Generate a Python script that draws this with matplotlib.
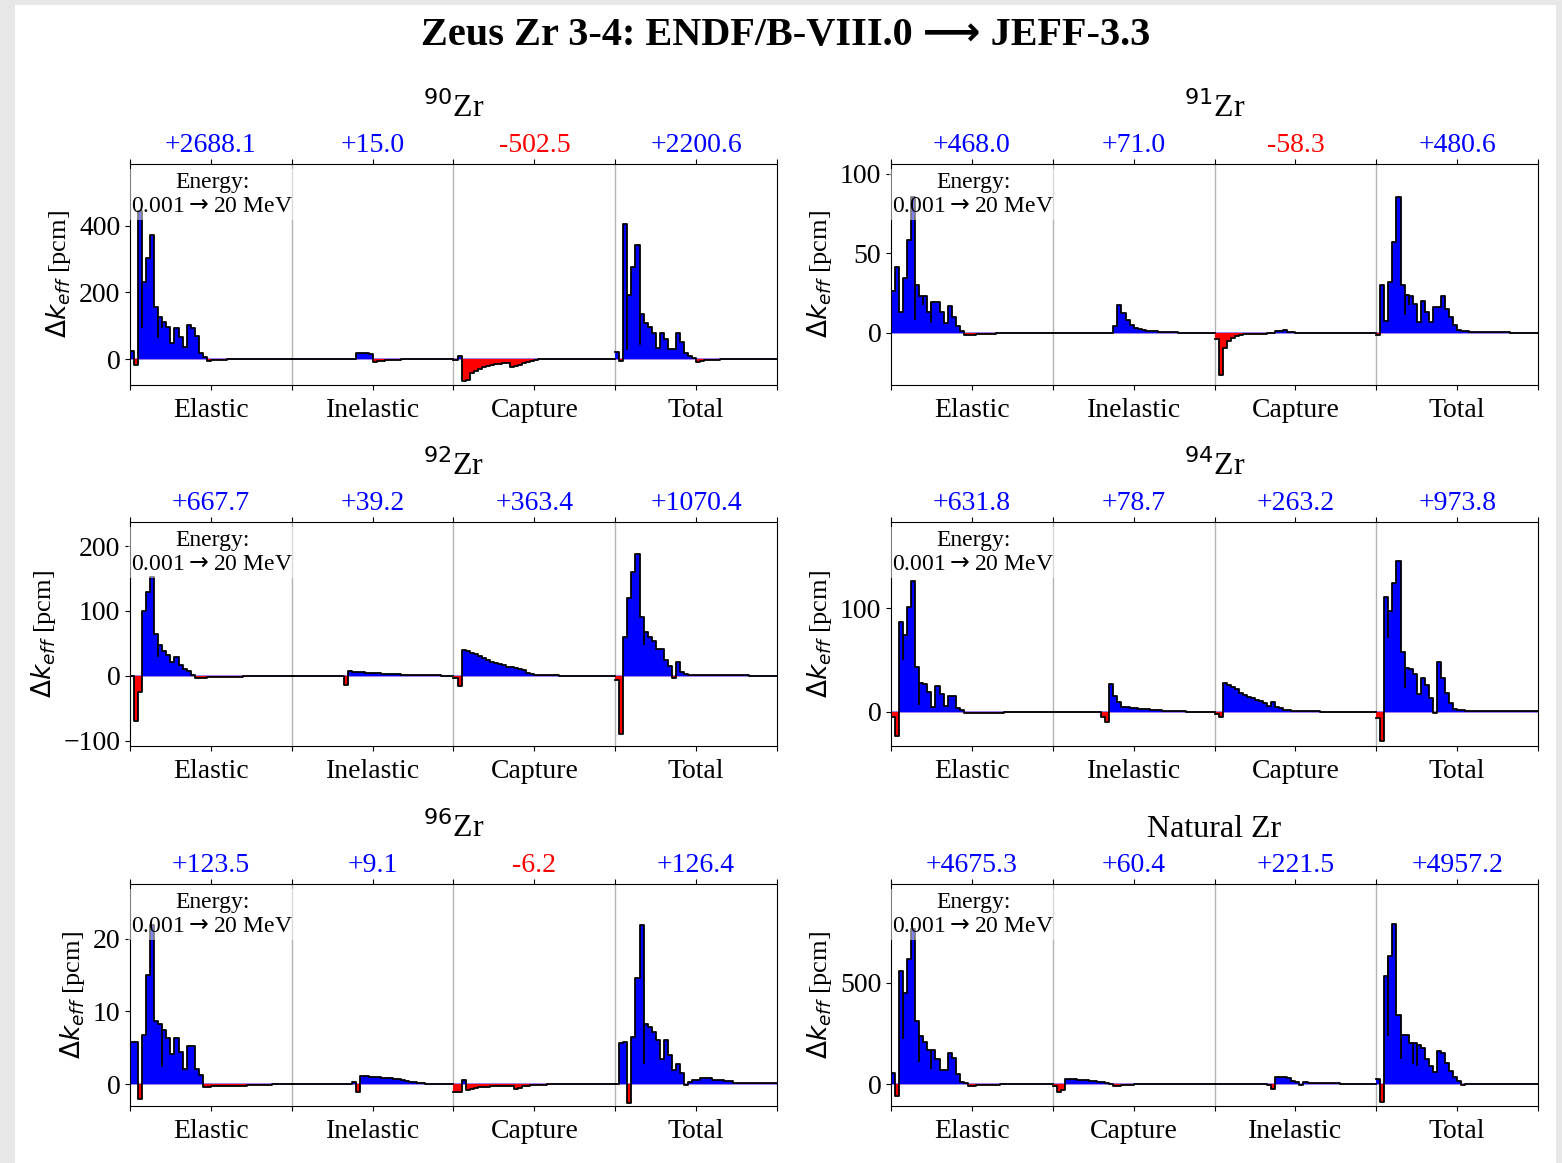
import numpy as np
import matplotlib
matplotlib.use('Agg')
import matplotlib.pyplot as plt
import matplotlib.transforms as mtransforms
from matplotlib.patches import Rectangle

plt.rcParams['font.family'] = ['Liberation Serif', 'DejaVu Sans']

NBIN = 40  # energy groups per reaction block (0.001 -> 20 MeV)

# ---- 90Zr ----
zr90_elastic = [25, -18, 445, 232, 303, 373, 157, 127, 112, 97, 48, 93, 67, 37, 102, 93, 69, 18, 7, -5,
                -4, -3, -2, -2, -1, -1, -1, -1, 0, 0, 0, 0, 0, 0, 0, 0, 0, 0, 0, 0]
zr90_inelastic = [0, 0, 0, 0, 0, 0, 0, 0, 0, 0, 0, 0, 0, 0, 0, 0, 17, 18, 17, 15,
                  -8, -7, -5, -4, -3, -2, -2, -1, -1, -1, -1, 0, 0, 0, 0, 0, 0, 0, 0, 0]
zr90_capture = [-3, 9, -65, -62, -42, -35, -30, -25, -22, -19, -16, -14, -12, -11, -25, -22, -17, -12, -8, -5,
                -2, -1, 0, 0, 0, 0, 0, 0, 0, 0, 0, 0, 0, 0, 0, 0, 0, 0, 0, 0]
zr90_total = [22, -5, 406, 192, 278, 343, 135, 109, 97, 79, 33, 79, 60, 30, 30, 78, 52, 17, 9, 3,
              -8, -7, -4, -3, -2, -2, -1, -1, 0, 0, 0, 0, 0, 0, 0, 0, 0, 0, 0, 0]
zr90_sums = ['+2688.1', '+15.0', '-502.5', '+2200.6']
zr90_dips = [(0, 3, 93), (0, 7, 63), (0, 8, 93), (3, 3, 27), (3, 6, 42)]

# ---- 91Zr ----
zr91_elastic = [26, 41, 13, 34, 58, 85, 30, 23, 23, 13, 19, 19, 13, 6, 16.5, 10, 4, 1, -1.5, -1.5,
                -1.3, -1.2, -1, -1, -0.8, -0.8, -0.6, -0.5, -0.4, -0.3, -0.2, -0.1, 0, 0, 0, 0, 0, 0, 0, 0]
zr91_inelastic = [0, 0, 0, 0, 0, 0, 0, 0, 0, 0, 0, 0, 0, 0, 0, 4, 17.5, 12, 8, 5,
                  3, 2, 1.5, 1.2, 1, 0.8, 0.6, 0.5, 0.3, 0.2, 0.1, 0, 0, 0, 0, 0, 0, 0, 0, 0]
zr91_capture = [-4, -27, -10, -5.5, -3.5, -2.2, -1.6, -1.2, -1, -1, -0.9, -0.8, -0.7, -0.6, -0.5, 1, 1, 1.5, 0.5, 0.2,
                0, 0, 0, 0, 0, 0, 0, 0, 0, 0, 0, 0, 0, 0, 0, 0, 0, 0, 0, 0]
zr91_total = [-1.5, 30, 7, 32, 57, 85, 30, 23.5, 23, 18, 6.7, 19.7, 13, 6.7, 16, 16, 23, 15, 10, 4.6,
              1.5, 1.0, 0.8, 0.6, 0.5, 0.4, 0.4, 0.3, 0.3, 0.2, 0.2, 0.1, 0.1, 0, 0, 0, 0, 0, 0, 0]
zr91_sums = ['+468.0', '+71.0', '-58.3', '+480.6']
zr91_dips = [(0, 6, 8), (0, 8, 17.5), (0, 10, 6), (3, 7, 11), (3, 8, 17.6)]

# ---- 92Zr ----
zr92_elastic = [0, -70, -25, 100, 129, 152, 65, 47, 39, 32, 21, 29, 16, 10, 7, 2, -3, -3, -3, -2,
                -2, -1.5, -1.5, -1.5, -1.2, -1.2, -1, -1, -0.8, -0.5, -0.3, 0, 0, 0, 0, 0, 0, 0, 0, 0]
zr92_inelastic = [0, 0, 0, 0, 0, 0, 0, 0, 0, 0, 0, 0, 0, -14, 7, 6.5, 6, 5.5, 5, 4.5,
                  4, 3.7, 3.4, 3.1, 2.8, 2.5, 2.2, 2, 1.8, 1.6, 1.4, 1.2, 1, 0.9, 0.8, 0.7, 0.6, 0.5, 0.4, 0.3]
zr92_capture = [-4, -15, 40, 39, 36, 33, 30, 27, 25, 22, 20, 18, 16, 14, 13, 12, 11, 9, 5, 3,
                2, 1.5, 1, 1, 0.8, 0.6, 0.5, 0.4, 0.3, 0.2, 0, 0, 0, 0, 0, 0, 0, 0, 0, 0]
zr92_total = [-6, -89, 60, 120, 160, 188, 90, 67, 60, 54, 42, 42, 24, 15, -3, 21, 6, 3, 2, 2,
              1.8, 1.7, 1.6, 1.5, 1.5, 1.4, 1.3, 1.2, 1.1, 1, 0.9, 0.8, 0.7, 0.5, 0, 0, 0, 0, 0, 0]
zr92_sums = ['+667.7', '+39.2', '+363.4', '+1070.4']
zr92_dips = [(0, 7, 29), (3, 7, 47)]

# ---- 94Zr ----
zr94_elastic = [-5.5, -23, 87, 74, 101, 126, 43, 28, 27, 19, 5, 25, 17, 6, 15, 15, 4, 1.6, -1.6, -1.6,
                -1.4, -1.3, -1.2, -1.1, -1, -0.9, -0.8, -0.7, -0.6, -0.5, -0.4, -0.3, -0.2, 0, 0, 0, 0, 0, 0, 0]
zr94_inelastic = [0, 0, 0, 0, 0, 0, 0, 0, 0, 0, 0, 0, -5.5, -10, 27, 15.5, 9, 5, 4.5, 4,
                  3.5, 3, 2.7, 2.3, 2, 1.7, 1.4, 1.1, 0.9, 0.7, 0.5, 0.4, 0.3, 0.2, 0.1, 0, 0, 0, 0, 0]
zr94_capture = [-2, -5.5, 27.5, 26, 24, 22, 18, 16, 14.5, 13, 11, 10, 8.5, 6, 9, 5, 4, 2, 1.5, 1.2,
                1, 0.8, 0.6, 0.5, 0.4, 0.3, 0.2, 0.1, 0, 0, 0, 0, 0, 0, 0, 0, 0, 0, 0, 0]
zr94_total = [-6.4, -28, 111, 97, 124, 145, 58, 42, 41, 36, 17, 33, 26, 13, -1, 48, 33, 18, 8.7, 2.2,
              1.5, 1.3, 1.2, 1.2, 1.1, 1, 1, 0.9, 0.9, 0.8, 0.8, 0.7, 0.7, 0.6, 0.6, 0.5, 0.5, 0.5, 0.4, 0.4]
zr94_sums = ['+631.8', '+78.7', '+263.2', '+973.8']
zr94_dips = [(0, 3, 50), (0, 7, 7), (3, 3, 71), (3, 7, 23)]

# ---- 96Zr ----
zr96_elastic = [5.8, 5.8, -2.1, 6.7, 15, 21.8, 8.7, 8.3, 7.4, 6.3, 4.2, 6.3, 4.4, 2.1, 5.3, 5.3, 2.1, 1.2, -0.45, -0.45,
                -0.3, -0.3, -0.25, -0.25, -0.2, -0.2, -0.2, -0.2, -0.2, -0.15, -0.15, -0.1, -0.1, -0.1, -0.05, 0, 0, 0, 0, 0]
zr96_inelastic = [0, 0, 0, 0, 0, 0, 0, 0, 0, 0, 0, 0, 0, 0, 0, 0.3, -1.05, 1.1, 1.1, 1.05,
                  1.0, 0.95, 0.9, 0.85, 0.8, 0.7, 0.65, 0.55, 0.45, 0.35, 0.25, 0.15, 0.1, 0.05, 0, 0, 0, 0, 0, 0]
zr96_capture = [-1.05, -1.05, 0.55, -0.75, -0.6, -0.5, -0.45, -0.4, -0.35, -0.3, -0.3, -0.3, -0.3, -0.3, -0.3, -0.6, -0.55, -0.3, -0.2, -0.15,
                -0.1, -0.1, -0.05, 0, 0, 0, 0, 0, 0, 0, 0, 0, 0, 0, 0, 0, 0, 0, 0, 0]
zr96_total = [0, 5.6, 5.8, -2.6, 6.5, 14.6, 21.8, 8.3, 7.9, 7.2, 6, 3.5, 6, 4, 1.9, 2.8, 1.5, -0.15, 0.3, 0.55,
              0.55, 0.8, 0.8, 0.8, 0.6, 0.55, 0.55, 0.5, 0.4, 0.2, 0.2, 0.15, 0.1, 0.1, 0.1, 0.1, 0.1, 0.1, 0.1, 0.1]
zr96_sums = ['+123.5', '+9.1', '-6.2', '+126.4']
zr96_dips = [(0, 8, 2.4), (3, 7, 2.8)]

# ---- Natural Zr (note: capture before inelastic) ----
znat_elastic = [54, -60, 559, 448, 614, 765, 309, 239, 208, 168, 168, 122, 70, 70, 151, 130, 50, 11, 5, -11,
                -8, -5, -4, -3, -3, -3, -3, -2, -2, -2, -1, -1, 0, 0, 0, 0, 0, 0, 0, 0]
znat_capture = [-11, -37, -30, 24, 24, 24, 22, 20, 19, 17, 14, 12, 10, 5, 2, -10, -11, -7, -5, -3,
                -2, -1, 0, 0, 0, 0, 0, 0, 0, 0, 0, 0, 0, 0, 0, 0, 0, 0, 0, 0]
znat_inelastic = [0, 0, 0, 0, 0, 0, 0, 0, 0, 0, 0, 0, 0, -3, -24, 33, 37, 37, 28, 15,
                  8, -5, 8, 7, 7, 6, 6, 5, 5, 4, 3, 2, 0.5, 0, 0, 0, 0, 0, 0, 0]
znat_total = [24, -90, 530, 630, 790, 340, 240, 240, 200, 200, 190, 180, 122, 90, 57, 165, 155, 106, 65, 33,
              16, -5, 2, 1.5, 1.5, 1.5, 1.2, 1.2, 1, 1, 1, 0.8, 0.8, 0.6, 0.5, 0.5, 0.4, 0.3, 0.2, 0.1]
znat_sums = ['+4675.3', '+60.4', '+221.5', '+4957.2']
znat_dips = [(0, 3, 220), (0, 7, 109), (0, 10, 73), (3, 3, 236), (3, 6, 122), (3, 9, 98), (3, 10, 90)]

std_labels = ['Elastic', 'Inelastic', 'Capture', 'Total']
nat_labels = ['Elastic', 'Capture', 'Inelastic', 'Total']

panels = [
    (r'$^{90}$Zr', std_labels, [zr90_elastic, zr90_inelastic, zr90_capture, zr90_total], zr90_sums, zr90_dips,
     (-78, 586), [0, 200, 400]),
    (r'$^{91}$Zr', std_labels, [zr91_elastic, zr91_inelastic, zr91_capture, zr91_total], zr91_sums, zr91_dips,
     (-33, 106), [0, 50, 100]),
    (r'$^{92}$Zr', std_labels, [zr92_elastic, zr92_inelastic, zr92_capture, zr92_total], zr92_sums, zr92_dips,
     (-108, 237), [-100, 0, 100, 200]),
    (r'$^{94}$Zr', std_labels, [zr94_elastic, zr94_inelastic, zr94_capture, zr94_total], zr94_sums, zr94_dips,
     (-33, 183), [0, 100]),
    (r'$^{96}$Zr', std_labels, [zr96_elastic, zr96_inelastic, zr96_capture, zr96_total], zr96_sums, zr96_dips,
     (-3.0, 27.5), [0, 10, 20]),
    ('Natural Zr', nat_labels, [znat_elastic, znat_capture, znat_inelastic, znat_total], znat_sums, znat_dips,
     (-108, 985), [0, 500]),
]

W, H = 1562, 1163
fig = plt.figure(figsize=(W / 100, H / 100), dpi=100, facecolor='#e7e7e7')
fig.add_artist(Rectangle((15 / W, 0), (1556 - 15) / W, (H - 5) / H, transform=fig.transFigure,
                         facecolor='white', edgecolor='none', zorder=0))

fig.text(785.5 / W, 1 - 36 / H, 'Zeus Zr 3-4: ENDF/B-VIII.0 \u27f6 JEFF-3.3',
         ha='center', va='center', fontsize=29, fontweight='bold')

cols = [(130, 777), (891, 1538)]
rows = [(164, 385), (522, 746), (884, 1106)]

for k, (title, labels, series, sums, dips, ylim, yticks) in enumerate(panels):
    x0, x1 = cols[k % 2]
    y0, y1 = rows[k // 2]
    ax = fig.add_axes([x0 / W, 1 - y1 / H, (x1 - x0) / W, (y1 - y0) / H])
    ah = y1 - y0

    ax.set_xlim(0, 4)
    ax.set_ylim(*ylim)
    for g in (1, 2, 3):
        ax.axvline(g, color='#b4b4b4', lw=1, zorder=0.5)
    ax.axhline(0, color='#9a72e8', lw=1.3, zorder=1.5)

    for s, vals in enumerate(series):
        v = np.asarray(vals, dtype=float)
        edges = s + np.arange(len(v) + 1) / NBIN
        y = np.append(v, v[-1])
        ax.fill_between(edges, 0, np.clip(y, 0, None), step='post', color='blue', lw=0, zorder=2)
        ax.fill_between(edges, 0, np.clip(y, None, 0), step='post', color='red', lw=0, zorder=2)
        ax.step(edges, y, where='post', color='k', lw=1.3, zorder=3)
    for s, b, d in dips:
        ax.vlines(s + b / NBIN, d, series[s][b], color='k', lw=1.3, zorder=3)

    xt = np.arange(0, 4.01, 0.5)
    ax.set_xticks(xt)
    ax.set_xticklabels(['' if i % 2 == 0 else labels[i // 2] for i in range(len(xt))], fontsize=20)
    ax.tick_params(axis='x', top=True, pad=6)
    ax.set_yticks(yticks)
    ax.tick_params(axis='y', labelsize=20)
    ax.set_ylabel(r'$\Delta k_{eff}$ [pcm]', fontsize=19)

    trans = mtransforms.blended_transform_factory(ax.transData, ax.transAxes)
    for s, t in enumerate(sums):
        ax.text(s + 0.5, 1 + 12 / ah, t, transform=trans, ha='center', va='baseline',
                fontsize=20, color='red' if t.startswith('-') else 'blue')

    ax.text(0.5, 1 + 47 / ah, title, transform=ax.transAxes, ha='center', va='baseline', fontsize=23)

    ax.text(0.127, 0.965, 'Energy:\n0.001$\\rightarrow$20 MeV', transform=ax.transAxes, ha='center', va='top',
            fontsize=17, linespacing=1.2, zorder=5,
            bbox=dict(boxstyle='square,pad=0.12', facecolor='white', alpha=0.5, edgecolor='none'))

fig.savefig('out.png', dpi=100, facecolor=fig.get_facecolor())
